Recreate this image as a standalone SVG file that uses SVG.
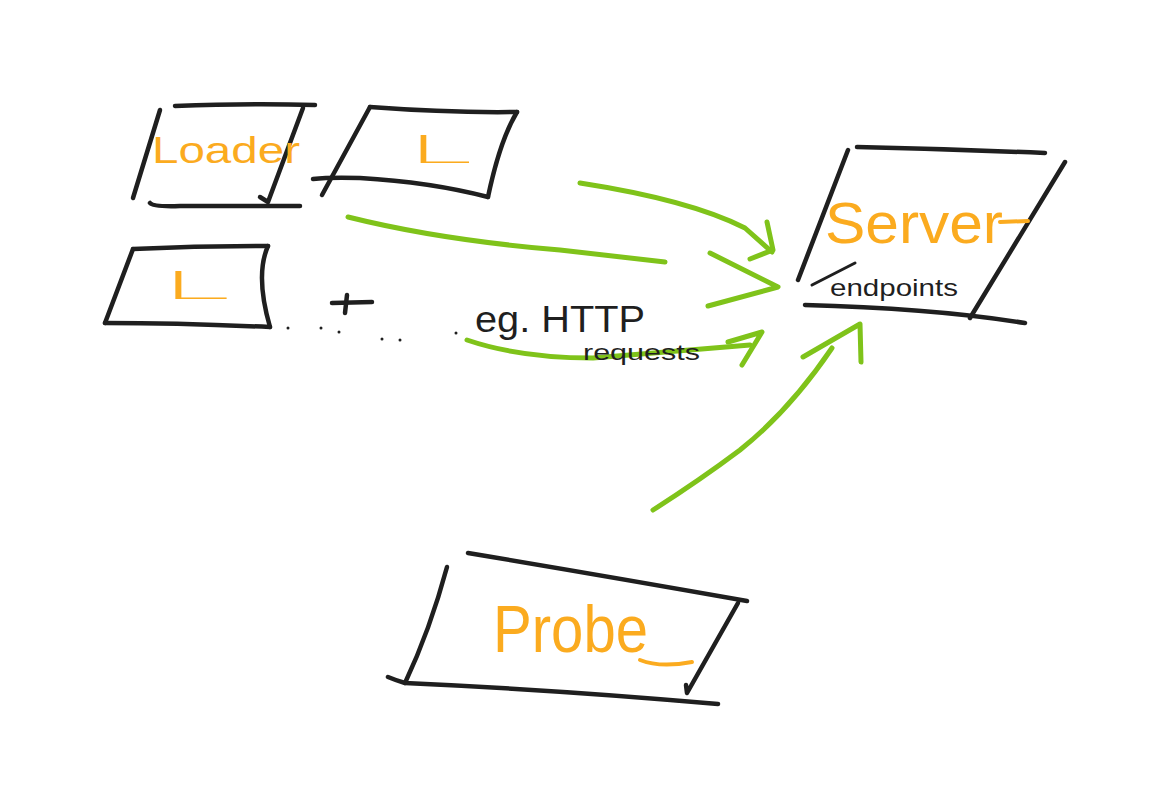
<svg xmlns="http://www.w3.org/2000/svg" width="1169" height="807" viewBox="0 0 1169 807">
<style>
.ink{fill:none;stroke:#1f1f1f;stroke-width:4.5;stroke-linecap:round;stroke-linejoin:round}
.thin{fill:none;stroke:#1f1f1f;stroke-width:3;stroke-linecap:round}
.arr{fill:none;stroke:#7fc31a;stroke-width:5;stroke-linecap:round;stroke-linejoin:round}
.lbl{font-family:"Liberation Sans","DejaVu Sans",sans-serif;fill:#fbab1f}
.ltr{font-family:Inter,"Liberation Sans",sans-serif;font-weight:200;fill:#fbab1f}
.blk{font-family:"Liberation Sans","DejaVu Sans",sans-serif;fill:#1f1f1f}
.dot{fill:#1f1f1f}
</style>
<rect width="1169" height="807" fill="#ffffff"/>
<g id="connectors">
  <path class="arr" d="M580,183 Q690,200 745,228 L772,252"/>
  <path class="arr" d="M767,222 L773,250 L750,259"/>
  <path class="arr" d="M348,217 Q440,240 560,250 L665,262"/>
  <path class="arr" d="M710,253 L778,287 L708,306"/>
  <path class="arr" d="M467,340 Q520,358 593,358 L750,345"/>
  <path class="arr" d="M728,342 L762,332 L742,365"/>
  <path class="arr" d="M653,510 Q700,480 740,450 Q790,410 832,348"/>
  <path class="arr" d="M803,357 L860,324 L861,362"/>
</g>
<g id="loader1">
  <path class="ink" d="M160,110 L133,198"/>
  <path class="ink" d="M175,106 Q250,103 315,105"/>
  <path class="ink" d="M303,108 L268,202 L260,197"/>
  <path class="ink" d="M150,203 Q153,207 180,206 L300,206"/>
  <text class="lbl" x="152" y="163" font-size="36" textLength="148" lengthAdjust="spacingAndGlyphs">Loader</text>
</g>
<g id="loader2">
  <path class="ink" d="M370,107 L322,195"/>
  <path class="ink" d="M370,107 Q450,113 517,112"/>
  <path class="ink" d="M517,112 Q500,140 488,197"/>
  <path class="ink" d="M313,179 Q330,177 360,178 Q430,182 488,197"/>
  <text class="ltr" x="408" y="163" font-size="38" textLength="68" lengthAdjust="spacingAndGlyphs">L</text>
</g>
<g id="loader3">
  <path class="ink" d="M133,249 Q200,246 268,246"/>
  <path class="ink" d="M133,249 L105,323"/>
  <path class="ink" d="M268,246 Q255,275 270,327"/>
  <path class="ink" d="M105,323 Q180,323 270,327"/>
  <text class="ltr" x="162" y="299" font-size="38" textLength="72" lengthAdjust="spacingAndGlyphs">L</text>
</g>
<g id="more">
  <path class="ink" d="M332,303 L372,302"/>
  <path class="ink" d="M347,295 L345,313"/>
  <circle class="dot" cx="288" cy="328" r="1.5"/>
  <circle class="dot" cx="321" cy="328" r="1.5"/>
  <circle class="dot" cx="339" cy="332" r="1.5"/>
  <circle class="dot" cx="382" cy="339" r="1.5"/>
  <circle class="dot" cx="400" cy="340" r="1.5"/>
  <circle class="dot" cx="456" cy="333" r="1.5"/>
</g>
<g id="http-label">
  <text class="blk" x="475" y="332" font-size="36" textLength="170" lengthAdjust="spacingAndGlyphs">eg. HTTP</text>
  <text class="blk" x="583" y="360" font-size="22" textLength="117" lengthAdjust="spacingAndGlyphs">requests</text>
</g>
<g id="server">
  <path class="ink" d="M857,147 Q950,149 1045,153"/>
  <path class="ink" d="M848,150 L798,280"/>
  <path class="ink" d="M1065,162 L970,318"/>
  <path class="ink" d="M805,305 Q930,308 1025,323"/>
  <text class="lbl" x="825" y="243" font-size="58" textLength="178" lengthAdjust="spacingAndGlyphs">Server</text>
  <path fill="none" stroke="#fbab1f" stroke-width="4" stroke-linecap="round" d="M1000,222 L1028,221"/>
  <path class="thin" d="M812,285 L855,263"/>
  <text class="blk" x="830" y="296" font-size="24" textLength="128" lengthAdjust="spacingAndGlyphs">endpoints</text>
</g>
<g id="probe">
  <path class="ink" d="M468,553 Q600,575 747,601"/>
  <path class="ink" d="M447,567 Q430,630 405,683"/>
  <path class="ink" d="M388,677 Q395,680 405,683 Q560,690 718,704"/>
  <path class="ink" d="M738,603 L687,693 L686,685"/>
  <text class="lbl" x="493" y="652" font-size="66" textLength="155" lengthAdjust="spacingAndGlyphs">Probe</text>
  <path fill="none" stroke="#fbab1f" stroke-width="4" stroke-linecap="round" d="M640,660 Q660,668 692,662"/>
</g>
</svg>
